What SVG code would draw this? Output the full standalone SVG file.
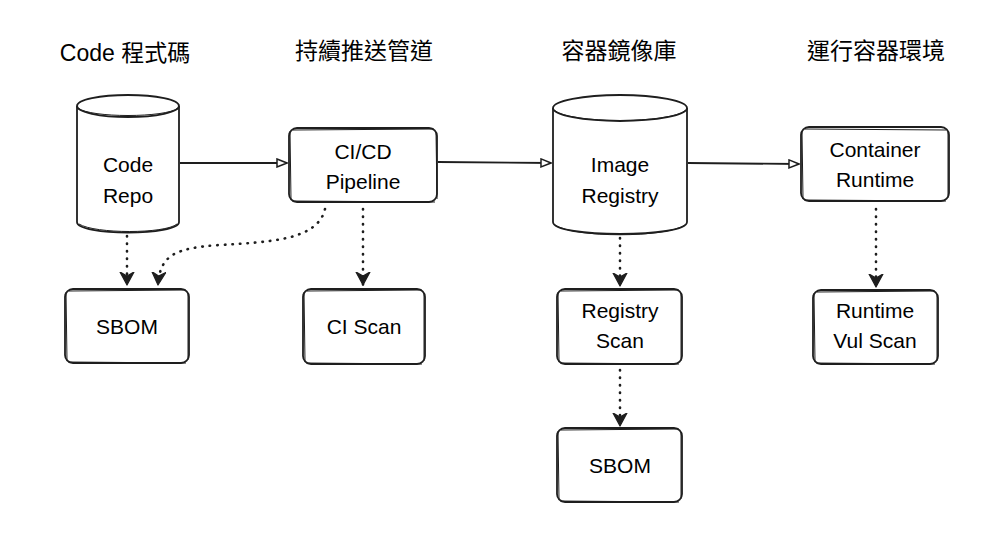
<svg xmlns="http://www.w3.org/2000/svg" width="1004" height="550" viewBox="0 0 1004 550">
<style>
.hdr{font-family:"Liberation Sans","Noto Sans CJK TC",sans-serif;font-size:23px;fill:#000;text-anchor:middle}
.lbl{font-family:"Liberation Sans",sans-serif;font-size:21px;fill:#000;text-anchor:middle}
.shape{fill:#fff;stroke:#1e1e1e;stroke-width:1.8}
.sk{fill:none;stroke:#1e1e1e;stroke-width:1}
.solid{fill:none;stroke:#1e1e1e;stroke-width:1.9}
.dot{fill:none;stroke:#1e1e1e;stroke-width:2.6;stroke-dasharray:0.5 7;stroke-linecap:round}
</style>
<defs>
<marker id="open" viewBox="0 0 12 10" refX="11" refY="5" markerWidth="12" markerHeight="10" markerUnits="userSpaceOnUse" orient="auto">
<path d="M1 1 L11 5 L1 9 Z" fill="#fff" stroke="#1e1e1e" stroke-width="1.5"/>
</marker>
<marker id="fill" viewBox="0 0 14 16" refX="13" refY="8" markerWidth="14" markerHeight="16" markerUnits="userSpaceOnUse" orient="auto">
<path d="M0 1 L13 8 L0 15 L4 8 Z" fill="#1e1e1e" stroke="#1e1e1e" stroke-width="1.2" stroke-linejoin="round"/>
</marker>
</defs>
<rect width="1004" height="550" fill="#fff"/>
<g id="headers">
<text class="hdr" x="125" y="61">Code 程式碼</text>
<text class="hdr" x="364" y="59">持續推送管道</text>
<text class="hdr" x="619" y="59">容器鏡像庫</text>
<text class="hdr" x="876" y="59">運行容器環境</text>
</g>
<g id="connectors">
<path class="solid" d="M180 163 L287 163" marker-end="url(#open)"/>
<path class="solid" d="M438 162 L551 163" marker-end="url(#open)"/>
<path class="solid" d="M688 163 L799 164" marker-end="url(#open)"/>
<path class="dot" d="M127 236 L127 285" marker-end="url(#fill)"/>
<path class="dot" d="M325 209 C318 240 270 242 220 245 C175 248 160 255 158 285" marker-end="url(#fill)"/>
<path class="dot" d="M363 209 L363 285" marker-end="url(#fill)"/>
<path class="dot" d="M620 238 L620 286" marker-end="url(#fill)"/>
<path class="dot" d="M876 209 L876 287" marker-end="url(#fill)"/>
<path class="dot" d="M620 370 L620 426" marker-end="url(#fill)"/>
</g>
<g id="code-repo">
<path class="shape" d="M77 106 L77 222 C77 236 179 236 179 222 L179 106"/>
<ellipse class="shape" cx="128" cy="106" rx="51" ry="11"/>
<path class="sk" d="M78 108 C90 118 166 118 178 108"/>
<path class="sk" d="M79 224 C95 234 165 234 177 224"/>
<text class="lbl" x="128" y="172">Code</text>
<text class="lbl" x="128" y="203">Repo</text>
</g>
<g id="cicd">
<rect class="shape" x="289" y="128" width="148" height="74" rx="8"/>
<path class="sk" d="M293 130 L434 129 M436 132 L437 199 M290 131 L291 200 M292 201 L435 202"/>
<text class="lbl" x="363" y="159">CI/CD</text>
<text class="lbl" x="363" y="189">Pipeline</text>
</g>
<g id="image-registry">
<path class="shape" d="M553 108 L553 222 C553 238 687 238 687 222 L687 108"/>
<ellipse class="shape" cx="620" cy="108" rx="67" ry="13"/>
<path class="sk" d="M554 110 C570 124 670 124 686 110"/>
<path class="sk" d="M555 225 C575 238 665 238 685 225"/>
<text class="lbl" x="620" y="172">Image</text>
<text class="lbl" x="620" y="203">Registry</text>
</g>
<g id="container-runtime">
<rect class="shape" x="801" y="127" width="148" height="74" rx="8"/>
<path class="sk" d="M805 129 L946 130 M948 132 L948 198 M802 131 L803 199 M804 200 L946 201"/>
<text class="lbl" x="875" y="157">Container</text>
<text class="lbl" x="875" y="187">Runtime</text>
</g>
<g id="sbom-1">
<rect class="shape" x="65" y="289" width="124" height="74" rx="8"/>
<path class="sk" d="M69 291 L186 290 M188 293 L188 360 M66 292 L67 361 M68 362 L186 363"/>
<text class="lbl" x="127" y="334">SBOM</text>
</g>
<g id="ci-scan">
<rect class="shape" x="303" y="289" width="122" height="75" rx="8"/>
<path class="sk" d="M307 291 L422 290 M424 293 L424 361 M304 292 L305 362 M306 363 L422 364"/>
<text class="lbl" x="364" y="334">CI Scan</text>
</g>
<g id="registry-scan">
<rect class="shape" x="557" y="289" width="125" height="75" rx="8"/>
<path class="sk" d="M561 291 L679 290 M681 293 L681 361 M558 292 L559 362 M560 363 L679 364"/>
<text class="lbl" x="620" y="318">Registry</text>
<text class="lbl" x="620" y="348">Scan</text>
</g>
<g id="runtime-vul-scan">
<rect class="shape" x="813" y="290" width="125" height="74" rx="8"/>
<path class="sk" d="M817 292 L935 291 M937 294 L937 361 M814 293 L815 362 M816 363 L935 364"/>
<text class="lbl" x="875" y="318">Runtime</text>
<text class="lbl" x="875" y="348">Vul Scan</text>
</g>
<g id="sbom-2">
<rect class="shape" x="557" y="428" width="125" height="74" rx="8"/>
<path class="sk" d="M561 430 L679 429 M681 432 L681 499 M558 431 L559 500 M560 501 L679 502"/>
<text class="lbl" x="620" y="473">SBOM</text>
</g>
</svg>
